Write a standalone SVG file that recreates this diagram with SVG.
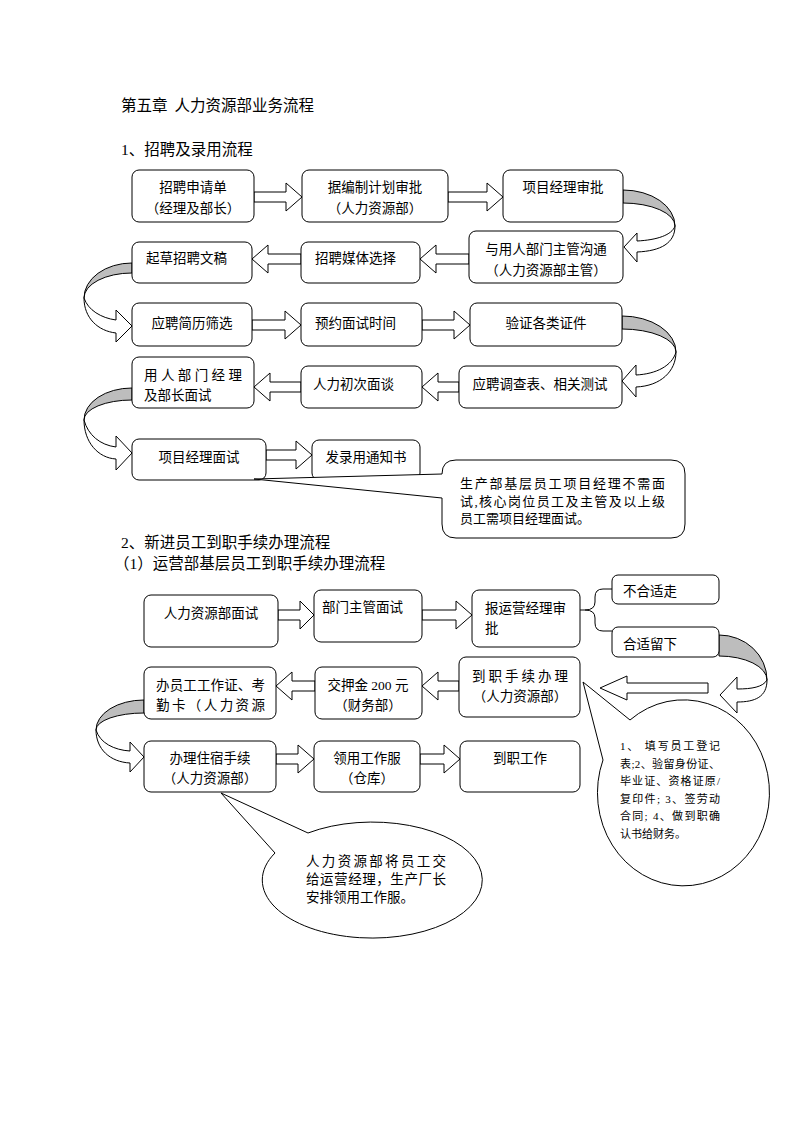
<svg xmlns="http://www.w3.org/2000/svg" width="793" height="1122" viewBox="0 0 793 1122">
<style>
.bg{fill:#fff}
.box{fill:#fff;stroke:#000;stroke-width:1}
.arr{fill:#fff;stroke:#000;stroke-width:1;stroke-linejoin:miter}
.gr{fill:#bdbdbd;stroke:#000;stroke-width:1}
.ln{fill:none;stroke:#000;stroke-width:1}
.t{font-family:"Liberation Serif","Noto Sans CJK SC",serif;font-size:13.5px;fill:#000}
.h{font-size:15.5px}
.s{font-size:13px}
.xs{font-size:11px}
.m{text-anchor:middle}
</style>
<rect class="bg" x="0" y="0" width="793" height="1122"/>

<g id="headings">
<text class="t h" x="121" y="111">第五章<tspan dx="7">人力资源部业务流程</tspan></text>
<text class="t h" x="121" y="155">1、招聘及录用流程</text>
<text class="t h" x="121" y="548">2、新进员工到职手续办理流程</text>
<text class="t h" x="114" y="569">（1）运营部基层员工到职手续办理流程</text>
</g>

<g id="connectors">
<polygon class="arr" points="254,192 286,192 286,183 302,197 286,211 286,202 254,202"/>
<polygon class="arr" points="448,192 487,192 487,183 503,197 487,211 487,202 448,202"/>
<polygon class="arr" points="469,254 436,254 436,245 420,259 436,273 436,264 469,264"/>
<polygon class="arr" points="301,254 268,254 268,245 252,259 268,273 268,264 301,264"/>
<polygon class="arr" points="252,320 285,320 285,311 301,325 285,339 285,330 252,330"/>
<polygon class="arr" points="422,320 454,320 454,311 470,325 454,339 454,330 422,330"/>
<polygon class="arr" points="459,382 438,382 438,373 422,387 438,401 438,392 459,392"/>
<polygon class="arr" points="301,382 270,382 270,373 254,387 270,401 270,392 301,392"/>
<polygon class="arr" points="266,450 296,450 296,441 312,455 296,469 296,460 266,460"/>
<polygon class="arr" points="278,610 300,610 300,601 314,615 300,629 300,620 278,620"/>
<polygon class="arr" points="422,610 456,610 456,601 472,615 456,629 456,620 422,620"/>
<polygon class="arr" points="459,681 438,681 438,672 422,686 438,700 438,691 459,691"/>
<polygon class="arr" points="315,681 292,681 292,672 276,686 292,700 292,691 315,691"/>
<polygon class="arr" points="276,754 298,754 298,745 314,759 298,773 298,764 276,764"/>
<polygon class="arr" points="420,754 444,754 444,745 460,759 444,773 444,764 420,764"/>
<polygon class="arr" points="708,683 627,683 627,676 600,688 627,700 627,693 708,693"/>

<path class="gr" d="M623,190 A52,36 0 0 1 675,226 A52,23 0 0 0 623,203 Z"/>
<path class="arr" d="M675,226 C675,243 661,251 637,252 L637,262 L624,247 L637,233 L637,241 C657,240 672,235 675,226 Z"/>

<path class="gr" d="M132,263 A48,35 0 0 0 84,298 A48,25 0 0 1 132,273 Z"/>
<path class="arr" d="M84,298 C84,318 98,331 116,333 L116,342 L132,326 L116,310 L116,320 C101,318 88,310 84,298 Z"/>

<path class="gr" d="M622,316 A54,36 0 0 1 676,352 A54,23 0 0 0 622,329 Z"/>
<path class="arr" d="M676,352 C676,371 661,386 636,387 L636,397 L622,381 L636,365 L636,375 C656,374 672,366 676,352 Z"/>

<path class="gr" d="M132,388 A48,32 0 0 0 84,420 A48,20 0 0 1 132,400 Z"/>
<path class="arr" d="M84,420 C84,442 98,458 116,459 L116,470 L132,453 L116,436 L116,447 C100,445 88,435 84,420 Z"/>

<path class="gr" d="M719,635 A48,45 0 0 1 767,680 A48,24 0 0 0 719,656 Z"/>
<path class="arr" d="M767,680 C767,697 755,702 737,702 L737,713 L720,695 L737,677 L737,689 C752,689 763,687 767,680 Z"/>

<path class="gr" d="M144,700 A48,30 0 0 0 96,730 A48,17 0 0 1 144,713 Z"/>
<path class="arr" d="M96,730 C96,749 110,762 130,763 L130,772 L144,757 L130,742 L130,751 C114,750 100,743 96,730 Z"/>

<path class="ln" d="M580,610 H585 Q595,610 595,602 V597 Q595,589 603,589 H612 M585,610 Q595,610 595,618 V623 Q595,631 603,631 H612"/>
</g>

<g id="n-zhaopin-shenqing"><rect class="box" x="132" y="170" width="122" height="52" rx="7"/>
<text class="t m" x="193" y="192">招聘申请单</text><text class="t m" x="193" y="213">（经理及部长）</text></g>
<g id="n-bianzhi-shenpi"><rect class="box" x="302" y="170" width="146" height="52" rx="7"/>
<text class="t m" x="375" y="192">据编制计划审批</text><text class="t m" x="375" y="213">（人力资源部）</text></g>
<g id="n-xiangmu-shenpi"><rect class="box" x="503" y="170" width="120" height="52" rx="7"/>
<text class="t m" x="563" y="192">项目经理审批</text></g>

<g id="n-goutong"><rect class="box" x="469" y="231" width="154" height="52" rx="7"/>
<text class="t m" x="546" y="254">与用人部门主管沟通</text><text class="t m" x="546" y="275">（人力资源部主管）</text></g>
<g id="n-meiti"><rect class="box" x="301" y="242" width="119" height="41" rx="7"/>
<text class="t" x="315" y="263">招聘媒体选择</text></g>
<g id="n-wengao"><rect class="box" x="132" y="242" width="120" height="41" rx="7"/>
<text class="t" x="146" y="263">起草招聘文稿</text></g>

<g id="n-shaixuan"><rect class="box" x="132" y="303" width="120" height="43" rx="7"/>
<text class="t m" x="192" y="328">应聘简历筛选</text></g>
<g id="n-yuyue"><rect class="box" x="301" y="303" width="121" height="43" rx="7"/>
<text class="t" x="315" y="328">预约面试时间</text></g>
<g id="n-zhengjian"><rect class="box" x="470" y="303" width="152" height="43" rx="7"/>
<text class="t m" x="546" y="328">验证各类证件</text></g>

<g id="n-ceshi"><rect class="box" x="459" y="366" width="163" height="42" rx="7"/>
<text class="t m" x="540" y="389">应聘调查表、相关测试</text></g>
<g id="n-chuci"><rect class="box" x="301" y="366" width="121" height="42" rx="7"/>
<text class="t" x="313" y="389">人力初次面谈</text></g>
<g id="n-bumen-mianshi"><rect class="box" x="132" y="357" width="122" height="51" rx="7"/>
<text class="t" x="144" y="380" textLength="98" lengthAdjust="spacing">用人部门经理</text><text class="t" x="144" y="400">及部长面试</text></g>

<g id="n-xiangmu-mianshi"><rect class="box" x="132" y="439" width="134" height="41" rx="7"/>
<text class="t m" x="199" y="462">项目经理面试</text></g>
<g id="n-tongzhi"><rect class="box" x="312" y="440" width="108" height="40" rx="7"/>
<text class="t m" x="366" y="462">发录用通知书</text></g>

<g id="n-hr-mianshi"><rect class="box" x="144" y="595" width="134" height="52" rx="7"/>
<text class="t m" x="211" y="618">人力资源部面试</text></g>
<g id="n-zhuguan-mianshi"><rect class="box" x="314" y="590" width="108" height="52" rx="7"/>
<text class="t" x="322" y="612">部门主管面试</text></g>
<g id="n-yunying-shenpi"><rect class="box" x="472" y="590" width="108" height="57" rx="7"/>
<text class="t" x="485" y="613">报运营经理审</text><text class="t" x="485" y="633">批</text></g>
<g id="n-buheshi"><rect class="box" x="612" y="575" width="107" height="29" rx="6"/>
<text class="t" x="623" y="596">不合适走</text></g>
<g id="n-heshi"><rect class="box" x="612" y="627" width="107" height="30" rx="6"/>
<text class="t" x="623" y="649">合适留下</text></g>

<g id="n-daozhi-shouxu"><rect class="box" x="459" y="657" width="121" height="60" rx="7"/>
<text class="t" x="472" y="681" textLength="96" lengthAdjust="spacing">到职手续办理</text><text class="t m" x="520" y="701">（人力资源部）</text></g>
<g id="n-yajin"><rect class="box" x="315" y="667" width="107" height="52" rx="7"/>
<text class="t m" x="368" y="690">交押金 200 元</text><text class="t m" x="368" y="710">（财务部）</text></g>
<g id="n-gongzuozheng"><rect class="box" x="144" y="667" width="132" height="52" rx="7"/>
<text class="t" x="156" y="690" textLength="109" lengthAdjust="spacing">办员工工作证、考</text><text class="t" x="156" y="710" textLength="109" lengthAdjust="spacing">勤卡（人力资源</text></g>

<g id="n-zhusu"><rect class="box" x="144" y="741" width="132" height="51" rx="7"/>
<text class="t m" x="210" y="763">办理住宿手续</text><text class="t m" x="210" y="783">（人力资源部）</text></g>
<g id="n-gongzuofu"><rect class="box" x="314" y="741" width="106" height="51" rx="7"/>
<text class="t m" x="367" y="763">领用工作服</text><text class="t m" x="367" y="783">（仓库）</text></g>
<g id="n-daozhi-gongzuo"><rect class="box" x="460" y="741" width="120" height="51" rx="7"/>
<text class="t m" x="520" y="763">到职工作</text></g>

<g id="callout-mianshi">
<path class="box" d="M456,460 H671 Q685,460 685,474 V524 Q685,538 671,538 H456 Q442,538 442,524 V498 L254,479 L442,474 Q442,460 456,460 Z"/>
<text class="t s" x="460" y="488" textLength="205" lengthAdjust="spacing">生产部基层员工项目经理不需面</text>
<text class="t s" x="460" y="506" textLength="205" lengthAdjust="spacing">试,核心岗位员工及主管及以上级</text>
<text class="t s" x="460" y="523">员工需项目经理面试。</text>
</g>

<g id="callout-shouxu">
<path class="box" d="M630,720 L583,682 L603,760 A86,93 0 1 0 630,720 Z"/>
<text class="t xs" x="620" y="750" textLength="100" lengthAdjust="spacing">1、 填写员工登记</text>
<text class="t xs" x="620" y="767.5" textLength="100" lengthAdjust="spacing">表;2、验留身份证、</text>
<text class="t xs" x="620" y="785" textLength="100" lengthAdjust="spacing">毕业证、资格证原/</text>
<text class="t xs" x="620" y="802.5" textLength="100" lengthAdjust="spacing">复印件; 3、签劳动</text>
<text class="t xs" x="620" y="820" textLength="100" lengthAdjust="spacing">合同; 4、做到职确</text>
<text class="t xs" x="620" y="837.5">认书给财务。</text>
</g>

<g id="callout-zhusu">
<path class="box" d="M308,833 L221,793 L275,853 A110,58 0 1 0 308,833 Z"/>
<text class="t" x="306" y="866" textLength="140" lengthAdjust="spacing">人力资源部将员工交</text>
<text class="t" x="306" y="884" textLength="140" lengthAdjust="spacing">给运营经理，生产厂长</text>
<text class="t" x="306" y="902">安排领用工作服。</text>
</g>
</svg>
